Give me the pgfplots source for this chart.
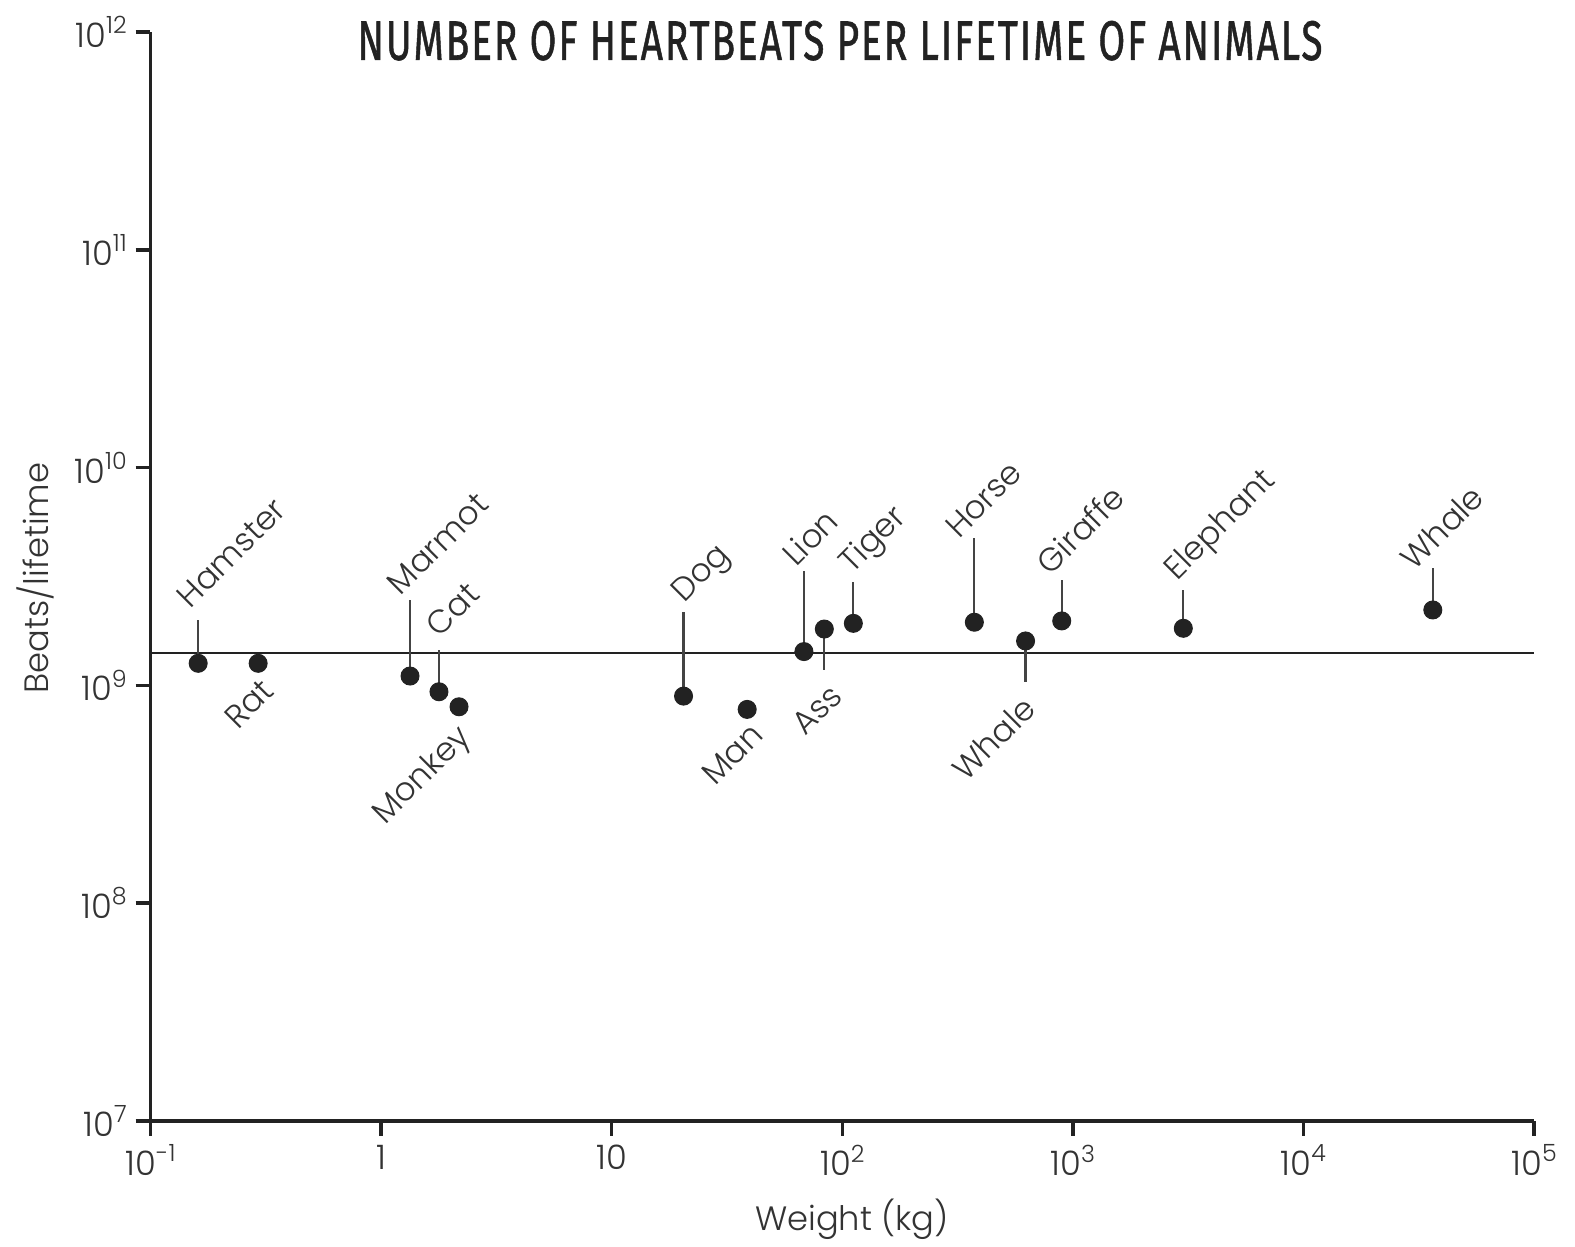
\documentclass[border=0pt]{standalone}
\usepackage{fontspec}
\setmainfont{Poppins Light}
\newfontfamily\titlefont{Fira Sans}[LetterSpace=5, FakeBold=1.2]
\usepackage{pgfplots}
\pgfplotsset{compat=1.18}
\definecolor{ink}{HTML}{222222}
\definecolor{txt}{HTML}{333333}
\definecolor{lead}{HTML}{444444}
\tikzset{
  lab/.style={font=\fontsize{13}{15}\selectfont, text=txt, inner sep=0pt},
  leader/.style={lead, line width=0.9pt},
}
\newcommand{\sups}[1]{\raisebox{0.75ex}{\fontsize{9.5}{10}\selectfont #1}}
\begin{document}
\begin{tikzpicture}[x=0.4pt,y=0.4pt]
\useasboundingbox (0,0) rectangle (1575,-1247);
\begin{axis}[
  at={(60.2pt,-448.4pt)}, anchor=south west,
  scale only axis, width=553.4pt, height=435.6pt,
  xmode=log, ymode=log,
  xmin=0.1, xmax=1e5, ymin=1e7, ymax=1e12,
  axis x line=bottom, axis y line=left,
  axis line style={-, ink},
  x axis line style={line width=1.9pt},
  y axis line style={line width=1.4pt},
  tick align=outside, major tick length=6pt,
  tick style={ink, line width=1.4pt},
  xminorticks=false, yminorticks=false,
  xtick={0.1,1,10,100,1000,10000,100000},
  xticklabels={10\sups{-1},1,10,10\sups{2},10\sups{3},10\sups{4},10\sups{5}},
  ytick={1e7,1e8,1e9,1e10,1e11,1e12},
  yticklabels={10\sups{7},10\sups{8},10\sups{9},10\sups{10},10\sups{11},10\sups{12}},
  ticklabel style={font=\fontsize{13.5}{15}\selectfont, text=txt},
  clip=false,
]
% reference line
\addplot[ink, line width=1pt] coordinates {(0.1,1.41e9) (1e5,1.41e9)};
% leader lines and labels (above)
\draw[leader] (axis cs:0.161,1.263e9) -- ++(0pt,17.3pt) node[xshift=-3.3pt,yshift=4pt,rotate=45,anchor=base west,lab] {Hamster};
\draw[leader] (axis cs:1.335,1.104e9) -- ++(0pt,30.4pt) node[xshift=-4pt,yshift=1.2pt,rotate=45,anchor=base west,lab] {Marmot};
\draw[leader] (axis cs:1.783,0.935e9) -- ++(0pt,16.7pt) node[xshift=0pt,yshift=4.4pt,rotate=45,anchor=base west,lab] {Cat};
\draw[leader] (axis cs:20.5,0.893e9) -- ++(0pt,33.7pt) node[xshift=0pt,yshift=3.2pt,rotate=45,anchor=base west,lab] {Dog};
\draw[leader] (axis cs:68.2,1.43e9) -- ++(0pt,32.4pt) node[xshift=-3.4pt,yshift=0.8pt,rotate=45,anchor=base west,lab] {Lion};
\draw[leader] (axis cs:111.7,1.927e9) -- ++(0pt,16.6pt) node[xshift=-0.8pt,yshift=2.8pt,rotate=45,anchor=base west,lab] {Tiger};
\draw[leader] (axis cs:374,1.95e9) -- ++(0pt,33.6pt) node[xshift=-6.4pt,yshift=-0.8pt,rotate=45,anchor=base west,lab] {Horse};
\draw[leader] (axis cs:895,1.977e9) -- ++(0pt,16.4pt) node[xshift=-4.8pt,yshift=1.2pt,rotate=45,anchor=base west,lab] {Giraffe};
\draw[leader] (axis cs:3013,1.829e9) -- ++(0pt,15.2pt) node[xshift=-2.8pt,yshift=3.2pt,rotate=45,anchor=base west,lab] {Elephant};
\draw[leader] (axis cs:36400,2.22e9) -- ++(0pt,16.7pt) node[xshift=-7.6pt,yshift=-1.6pt,rotate=45,anchor=base west,lab] {Whale};
% below
\draw[leader] (axis cs:83.6,1.815e9) -- ++(0pt,-16.4pt) node[xshift=1.6pt,yshift=-4.4pt,rotate=45,anchor=north east,lab] {Ass};
\draw[leader] (axis cs:623.7,1.60e9) -- ++(0pt,-16.3pt) node[xshift=-2pt,yshift=-4.4pt,rotate=45,anchor=north east,lab] {Whale};
\node[xshift=0.4pt,yshift=-5.2pt,rotate=45,anchor=north east,lab] at (axis cs:0.293,1.263e9) {Rat};
\node[xshift=-1.6pt,yshift=-5.7pt,rotate=45,anchor=north east,lab] at (axis cs:2.178,0.798e9) {Monkey};
\node[xshift=0.8pt,yshift=-4.4pt,rotate=45,anchor=north east,lab] at (axis cs:38.7,0.776e9) {Man};
% points
\addplot[only marks, mark=*, mark size=3.6pt, mark options={fill=ink, draw=ink}] coordinates {
(0.161,1.263e9) (0.293,1.263e9) (1.335,1.104e9) (1.783,0.935e9) (2.178,0.798e9)
(20.5,0.893e9) (38.7,0.776e9) (68.2,1.43e9) (83.6,1.815e9) (111.7,1.927e9)
(374,1.95e9) (623.7,1.60e9) (895,1.977e9) (3013,1.829e9) (36400,2.22e9)};
\end{axis}
\node[anchor=south west, inner sep=0pt, text=ink] at (357,-61) {\resizebox{386pt}{15.6pt}{\titlefont NUMBER OF HEARTBEATS PER LIFETIME OF ANIMALS}};
\node[anchor=base, inner sep=0pt, text=txt, font=\fontsize{13.5}{15}\selectfont] at (852,-1230) {Weight (kg)};
\node[rotate=90, anchor=center, inner sep=0pt, text=txt, font=\fontsize{13.5}{15}\selectfont] at (35,-578) {Beats/lifetime};
\end{tikzpicture}
\end{document}
